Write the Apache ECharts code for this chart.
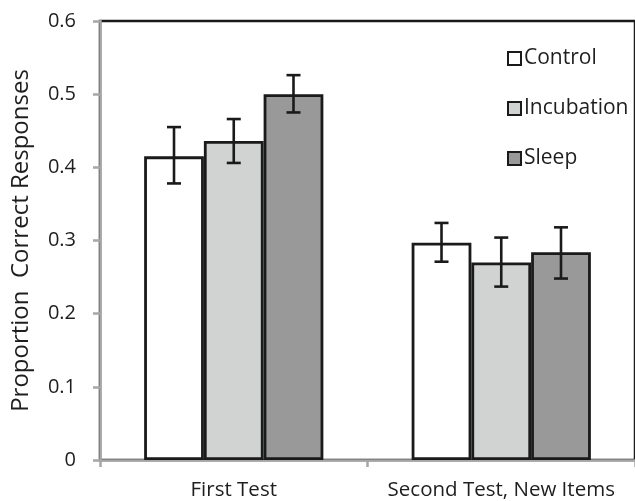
<!DOCTYPE html>
<html><head><meta charset="utf-8">
<script src="https://cdn.jsdelivr.net/npm/echarts@6/dist/echarts.min.js"></script>
<style>html,body{margin:0;padding:0;background:#fff}#c{width:635px;height:501px}</style>
</head><body><div id="c"></div>
<script>
const categories = ['First Test', 'Second Test, New Items'];
const seriesNames = ['Control', 'Incubation', 'Sleep'];
const control = [0.415, 0.297];
const incubation = [0.436, 0.270];
const sleep = [0.500, 0.284];
const controlErr = [[0.378, 0.455], [0.271, 0.324]];
const incubationErr = [[0.406, 0.466], [0.237, 0.304]];
const sleepErr = [[0.475, 0.526], [0.248, 0.318]];
const yTicks = [0, 0.1, 0.2, 0.3, 0.4, 0.5, 0.6];

const colors = ['#ffffff', '#d1d3d2', '#999999'];
const values = [control, incubation, sleep];
const errs = [controlErr, incubationErr, sleepErr];
const catGap = 0.33;
const FONT = 'Open Sans';
const TXT = '#1e1e1e';

const chart = echarts.init(document.getElementById('c'));
const series = [];
seriesNames.forEach((n, i) => {
  series.push({
    name: n, type: 'bar', data: values[i], barGap: '0%', barCategoryGap: '33%',
    itemStyle: { color: colors[i], borderColor: '#1a1a1a', borderWidth: 2.8 },
    z: 2
  });
});
seriesNames.forEach((n, i) => {
  series.push({
    type: 'custom', name: n + ' err',
    data: errs[i].map((e, k) => [k, e[0], e[1]]),
    encode: { x: 0, y: [1, 2] },
    z: 5,
    renderItem: function (params, api) {
      const k = api.value(0);
      const lo = api.coord([k, api.value(1)]);
      const hi = api.coord([k, api.value(2)]);
      const cw = api.size([1, 0])[0];
      const bw = cw * (1 - catGap) / 3;
      const x = lo[0] + (i - 1) * bw;
      const cap = 7;
      const st = { stroke: '#1a1a1a', lineWidth: 2.6 };
      return { type: 'group', children: [
        { type: 'line', shape: { x1: x, y1: hi[1], x2: x, y2: lo[1] }, style: st },
        { type: 'line', shape: { x1: x - cap, y1: hi[1], x2: x + cap, y2: hi[1] }, style: st },
        { type: 'line', shape: { x1: x - cap, y1: lo[1], x2: x + cap, y2: lo[1] }, style: st }
      ]};
    }
  });
});

chart.setOption({
  animation: false,
  textStyle: { fontFamily: FONT },
  grid: { left: 100, right: -11, top: 21, bottom: 41, show: true, borderColor: '#1a1a1a', borderWidth: 2.5, backgroundColor: 'transparent' },
  legend: {
    data: seriesNames, orient: 'vertical', left: 502, top: 43, itemGap: 29,
    itemWidth: 13, itemHeight: 13, icon: 'rect',
    itemStyle: { borderColor: '#1a1a1a', borderWidth: 2 },
    textStyle: { fontFamily: FONT, fontSize: 21, lineHeight: 20, color: TXT, padding: [0, 0, 0, -2] }
  },
  xAxis: {
    type: 'category', data: categories,
    axisLine: { lineStyle: { color: '#a6a6a6', width: 2.5 } },
    axisTick: { show: true, length: 7, lineStyle: { color: '#a6a6a6', width: 2.5 } },
    axisLabel: { fontFamily: FONT, fontSize: 20.5, color: TXT, margin: 20, interval: 0, hideOverlap: false }
  },
  yAxis: {
    type: 'value', min: 0, max: 0.6, interval: 0.1,
    name: 'Proportion  Correct Responses', nameLocation: 'middle', nameGap: 67,
    nameTextStyle: { fontFamily: FONT, fontSize: 24, color: TXT },
    axisLine: { show: true, lineStyle: { color: '#a6a6a6', width: 2.5 } },
    axisTick: { show: true, length: 7, lineStyle: { color: '#a6a6a6', width: 2.5 } },
    splitLine: { show: false },
    axisLabel: { fontFamily: FONT, fontSize: 20, color: TXT, margin: 24,
      formatter: v => { const t = yTicks.find(x => Math.abs(x - v) < 1e-9); return String(t === undefined ? v : t); } }
  },
  series: series
});
</script></body></html>
